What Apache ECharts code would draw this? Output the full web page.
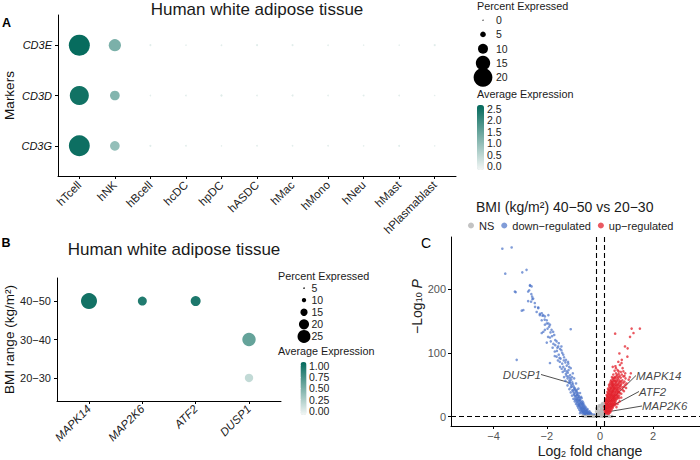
<!DOCTYPE html>
<html><head><meta charset="utf-8">
<script src="https://cdn.jsdelivr.net/npm/echarts@6.0.0/dist/echarts.min.js"></script>
<style>html,body{margin:0;padding:0;background:#fff}#c{width:700px;height:460px}</style>
</head><body><div id="c"></div>
<script>
// ---------- Panel A data ----------
const cellTypesA = ['hTcell','hNK','hBcell','hcDC','hpDC','hASDC','hMac','hMono','hNeu','hMast','hPlasmablast'];
const markersA = ['CD3E','CD3D','CD3G'];
const pctCD3E = [22.5, 12.5, 0.8, 0.4, 0.6, 0.9, 0.8, 0.5, 0.3, 0.3, 0.9];
const pctCD3D = [20.3, 9.6, 0.4, 0.6, 1.2, 0.5, 0.9, 0.5, 0.8, 0.6, 0.3];
const pctCD3G = [22.4, 9.6, 0.9, 0.7, 0.3, 0.6, 0.5, 0.6, 0.4, 0.8, 0.3];
const avgCD3E = [2.62, 1.25, 0.04, 0.02, 0.03, 0.05, 0.04, 0.02, 0.01, 0.02, 0.05];
const avgCD3D = [2.50, 1.15, 0.02, 0.03, 0.08, 0.03, 0.05, 0.02, 0.04, 0.03, 0.01];
const avgCD3G = [2.55, 0.95, 0.04, 0.03, 0.01, 0.03, 0.02, 0.03, 0.02, 0.04, 0.01];
const sizeBreaksA = [0, 5, 10, 15, 20];
const colorBreaksA = [0, 0.5, 1, 1.5, 2, 2.5];

// ---------- Panel B data ----------
const genesB = ['MAPK14','MAP2K6','ATF2','DUSP1'];
const bmiB = ['40\u221250','30\u221240','20\u221230'];
const dotGeneB = ['MAPK14','MAP2K6','ATF2','DUSP1','DUSP1'];
const dotBmiB  = ['40\u221250','40\u221250','40\u221250','30\u221240','20\u221230'];
const dotPctB  = [30.4, 18.0, 19.8, 25.8, 17.0];
const dotAvgB  = [1.00, 0.93, 0.95, 0.60, 0.15];
const sizeBreaksB = [5, 10, 15, 20, 25];
const colorBreaksB = [0, 0.25, 0.5, 0.75, 1];

// ---------- Panel C data (log2FC, -log10 P) ----------
const nsPts = [[-0.14,8],[-0.1,12],[-0.05,15],[0.0,18],[0.05,14],[0.1,10],[0.12,16],[0.08,20],[-0.08,6],[-0.12,3],[0.02,9],[0.06,6],[-0.03,4],[0.1,3],[0.13,6],[-0.06,10],[0.03,12],[-0.1,1.5],[0.0,2],[0.08,1.5],[0.12,12],[0.14,19],[0.11,21],[-0.02,7],[0.04,3],[-0.13,13],[-0.04,17],[0.07,17],[0.13,9],[-0.11,5],[0.01,5.5],[0.09,7.5],[-0.07,2.5],[0.05,10.5],
[-0.5,1.0],[-0.42,0.8],[-0.35,0.9],[-0.3,0.5],[-0.25,1.1],[-0.2,0.6],[-0.15,0.9],[-0.1,0.3],[-0.05,0.8],[0,0.5],[0.05,1.0],[0.1,0.4],[0.15,0.9],[0.2,0.6],[0.25,1.1],[0.3,0.7],[0.35,0.5],[-0.6,0.6],[-0.55,0.3],[0.4,0.3],[-0.45,0.2],[-0.38,0.4],[0.18,0.2],[-0.22,0.2],[0.08,0.7],[-0.28,1.2],[0.22,1.0],[-0.65,0.9],[0.45,0.8]];
const downPts = [[-3.67,263],[-3.32,265],[-3.56,224],[-2.92,226],[-2.76,230],[-3.2,196],[-2.63,205],[-2.66,198],[-2.58,192],[-2.7,181],[-2.54,184],[-2.94,166],[-2.45,178],[-2.32,171],[-2.26,161],[-2.16,158],[-2.08,152],[-2.19,151],[-2.0,146],[-1.91,141],[-2.07,136],[-1.86,132],[-1.8,126],[-1.88,124],[-1.63,118],[-1.75,114],[-2.0,116],[-1.1,137],[-3.13,89],[-1.57,110],[-1.45,104],[-1.7,102],[-1.38,97],[-1.63,94],[-1.28,89],[-1.51,86],[-1.19,83],[-1.38,78],[-1.88,84],[-1.1,76],[-1.25,71],[-1.02,68],[-1.19,63],[-0.97,60],[-1.13,55],[-0.9,52],[-1.06,47],[-0.81,44],[-1.0,39],[-0.75,37],[-0.94,32],[-0.69,29],[-0.88,26],[-0.63,22],[-0.78,18],[-0.56,16],[-0.69,13],[-0.48,10.5],[-0.63,8],[-0.38,6.4],[-0.51,4.3],[-0.31,3.3],[-0.75,5.4],
[-2.63,206],[-2.57,204],[-2.7,196],[-2.55,188],[-2.59,180],[-2.51,185],[-3.17,195],[-2.88,167],
[-2.44,172],[-2.38,164],[-2.32,170],[-2.26,159],[-2.19,162],[-2.13,159],[-2.07,157],[-1.94,159],[-2.0,151],[-1.94,146],[-1.88,144],[-2.07,144],[-1.97,138],[-1.82,136],[-1.76,133],[-2.13,133],[-2.19,131],
[-1.72,128],[-1.95,125],[-1.68,120],[-1.85,118],[-1.55,115],[-1.78,108],[-1.5,106],[-1.62,103],[-1.42,100],[-1.55,97],[-1.7,95],[-1.35,93],[-1.48,91],[-1.58,88],[-1.3,85],[-1.42,83],[-1.25,80],[-1.5,78],[-1.32,75],[-1.18,73],[-1.4,70],[-1.28,67],[-1.12,65],[-1.35,62],[-1.22,60],[-1.08,58],[-1.3,56],[-1.17,53],[-1.02,51],[-1.22,49],[-1.1,46],[-0.96,45],[-1.15,43],[-1.04,41],[-0.9,40],[-1.1,38],[-0.98,36],[-0.86,35],[-1.05,33],[-0.92,30],[-0.82,29],[-1.0,28],[-0.88,27],[-0.78,25],[-0.95,24],[-0.84,23],[-0.73,21],[-0.9,20],[-0.8,19],[-0.7,18],[-0.85,17],[-0.76,16],[-0.66,15],[-0.82,14],[-0.72,13],[-0.62,12],[-0.78,11],[-0.68,10],[-0.58,9.5],[-0.74,9],[-0.64,8],[-0.54,7.5],[-0.7,7],[-0.6,6],[-0.5,6],[-0.66,5],[-0.56,4.5],[-0.46,4],[-0.62,3.5],[-0.52,3],[-0.42,3],[-0.36,2.5],[-0.58,2.2],[-0.48,2],[-0.4,1.8],[-0.3,1.8],[-0.24,1.6],[-0.2,2],[-0.52,1.5],[-0.44,1.4],[-0.34,1.4],[-0.27,2.8],[-0.22,3.2],[-0.33,4.5],[-0.41,5.5],[-0.45,7.2],[-0.51,8.8],[-0.55,11.3],[-0.61,13.6],[-0.64,17.2],[-0.67,19.6],[-0.73,23.4],[-0.77,26.5],[-0.79,31.4],[-0.85,33.7],[-0.87,38.5],[-0.93,41.6],[-0.99,47.5],[-1.04,53.8],[-1.13,60.6],[-1.21,68.8],[-0.71,31],[-0.66,24],[-0.6,19],[-0.53,14],[-0.47,12],[-0.4,8.5],[-0.35,6],
[-0.95,44],[-1.0,42],[-0.87,42],[-0.93,37],[-0.83,37],[-0.97,34],[-0.89,33],[-0.8,33],[-0.86,30],[-0.76,29],[-0.94,27],[-0.83,26],[-0.74,26],[-0.88,23],[-0.79,22],[-0.69,22],[-0.84,20],[-0.75,20],[-0.65,20],[-0.79,17],[-0.7,16],[-0.61,16],[-0.74,14],[-0.65,13],[-0.57,13],[-0.7,11],[-0.6,10.5],[-0.52,10],[-0.66,9],[-0.56,8.5],[-0.48,8],[-0.62,7],[-0.52,6.5],[-0.44,6],[-0.58,5],[-0.48,5],[-0.39,4.5],[-0.54,3.8],[-0.45,3.5],[-0.36,3.2],[-0.29,2.4],[-0.49,2.6],[-0.41,2.2],[-0.32,2.1],[-0.26,2.1],[-0.56,1.7],[-0.47,1.6],[-0.38,1.5],[-0.21,1.5],[-1.08,50],[-1.15,57],[-1.05,62],[-1.26,64],[-1.33,72],[-1.16,78],[-1.44,75],[-1.2,86],[-1.36,88],[-1.52,92],[-1.45,110],[-1.6,108],[-1.68,112]];
const upPts = [[0.57,130],[1.19,138],[1.26,131],[1.5,138],[1.13,125],[0.94,110],[1.04,107],[0.73,99],[1.03,94],[0.82,89],[0.69,86],[0.81,84],[0.75,81],[0.58,79],[0.48,78],[0.85,76],[0.6,76],[0.7,71],[1.16,68],[0.92,64],
[0.55,72],[0.66,73],[0.78,70],[0.88,71],
[0.5,66],[0.6,68],[0.7,67],[0.82,66],[0.95,68],[0.64,65],
[0.45,62],[0.53,61],[0.62,63],[0.7,62],[0.78,61],[0.88,63],[0.58,60],[0.96,60],
[0.42,57],[0.5,58],[0.56,56],[0.63,57],[0.7,58],[0.76,56],[0.84,57],[0.92,55],[0.46,55],[0.66,55],
[0.38,52],[0.44,53],[0.5,51],[0.55,52],[0.6,53],[0.66,51],[0.72,52],[0.8,51],[0.88,53],[0.95,50],[0.58,50],[0.48,49],
[0.35,47],[0.4,46],[0.45,48],[0.5,47],[0.55,46],[0.6,48],[0.65,46],[0.7,47],[0.76,48],[0.84,46],[0.9,47],[0.53,44],[0.62,44],
[0.32,42],[0.37,41],[0.42,43],[0.46,41],[0.5,42],[0.55,43],[0.6,41],[0.65,42],[0.7,41],[0.77,43],[0.85,42],[0.45,39],[0.58,39],[0.68,39],
[0.3,37],[0.34,36],[0.38,38],[0.42,36],[0.46,37],[0.5,38],[0.54,36],[0.58,37],[0.63,36],[0.68,38],[0.74,37],[0.8,36],[0.4,34],[0.52,34],[0.6,34],
[0.27,32],[0.3,31],[0.34,33],[0.38,31],[0.42,32],[0.46,33],[0.5,31],[0.54,32],[0.58,30],[0.63,32],[0.68,31],[0.36,29],[0.44,29],[0.52,29],[0.72,29],
[0.24,27],[0.28,26],[0.32,28],[0.36,26],[0.4,27],[0.44,26],[0.48,28],[0.52,26],[0.56,27],[0.6,26],[0.64,28],[0.3,24],[0.38,24],[0.46,24],[0.54,24],
[0.21,22],[0.24,21],[0.28,23],[0.32,21],[0.36,22],[0.4,21],[0.44,23],[0.48,21],[0.52,22],[0.56,21],[0.27,19],[0.34,19],[0.42,19],[0.5,19],[0.58,19],
[0.18,17],[0.22,16],[0.26,18],[0.3,16],[0.34,17],[0.38,16],[0.42,18],[0.46,16],[0.5,17],[0.24,14],[0.32,14],[0.4,14],[0.48,14],
[0.16,12],[0.2,11],[0.24,13],[0.28,11],[0.32,12],[0.36,11],[0.4,12],[0.44,11],[0.22,9],[0.3,9],[0.38,9],
[0.16,7],[0.19,6],[0.23,8],[0.27,6],[0.31,7],[0.35,6],[0.39,7],[0.2,4.5],[0.26,4],[0.33,4.5],
[0.16,3],[0.2,2.5],[0.24,3],[0.28,2],[0.18,1.8],[0.22,1.6],[0.3,1.5],
[1.0,52],[1.08,58],[0.98,45],[1.12,62],[0.9,40],[0.8,30],[0.74,24],[0.66,20],[0.62,15],
[0.2,8],[0.25,10],[0.29,8.5],[0.34,9.5],[0.18,14],[0.21,13.5],[0.27,15],[0.35,14.5],[0.44,14.5],[0.17,19],[0.2,20],[0.25,19.5],[0.31,18.5],[0.38,19.5],[0.46,19.5],[0.54,18],[0.19,24],[0.23,25],[0.27,24.5],[0.34,25],[0.42,24.5],[0.5,25.5],[0.58,23],[0.22,28],[0.26,30],[0.32,29.5],[0.4,30],[0.48,29.5],[0.56,29],[0.64,30],[0.25,34],[0.29,35],[0.36,34.5],[0.44,35],[0.48,33],[0.56,33.5],[0.66,34],[0.72,33],[0.28,39],[0.34,40],[0.4,39.5],[0.48,40],[0.52,40],[0.62,39.5],[0.72,38.5],[0.3,44],[0.38,44],[0.43,45],[0.48,45],[0.57,45],[0.67,44],[0.74,45],[0.34,50],[0.41,50],[0.46,51],[0.53,49],[0.63,49.5],[0.69,50],[0.77,49],[0.4,55],[0.48,54],[0.53,56.5],[0.6,55],[0.73,54],[0.8,54.5],[0.48,60],[0.56,62],[0.66,60],[0.74,64]];
const labelGenes = ['MAPK14','ATF2','MAP2K6','DUSP1'];
const labelFC = [0.16, 0.17, 0.19, -1.13];
const labelP  = [15.7, 10.5, 6.9, 53];
const labelGroup = ['up','up','up','down'];
const xTicksC = [-4, -2, 0, 2];
const yTicksC = [0, 100, 200];
const fcCut = 0.15, pCut = 1.3;

// ---------- styling / layout ----------
const FF = "'Liberation Sans', Arial, Helvetica, sans-serif";
const LOW = '#f3f7f6', HIGH = '#03695b';
const groupColor = {up:'#e3222c', down:'#4a72c8', ns:'#b8b8b8'};
function radA(p){ return 0.44*p + 0.6; }
function radB(p){ return Math.max(0.5, 0.285*(p-2.3)); }
const minus = v => String(v).replace('-', '\u2212');

const pctA = [pctCD3E, pctCD3D, pctCD3G];
const avgA = [avgCD3E, avgCD3D, avgCD3G];
const dataA = [];
markersA.forEach((m,i)=>cellTypesA.forEach((c,j)=>dataA.push([j+1, i+1, pctA[i][j], avgA[i][j]])));
const dataB = dotGeneB.map((g,k)=>[genesB.indexOf(g)+1, bmiB.indexOf(dotBmiB[k])+1, dotPctB[k], dotAvgB[k]]);
const idxA = cellTypesA.map((_,i)=>i+1);
const idxM = markersA.map((_,i)=>i+1);
const idxG = genesB.map((_,i)=>i+1);
const idxB = bmiB.map((_,i)=>i+1);

const geneLabelPos = [
  {x:636, y:375.5, align:'left', verticalAlign:'middle'},
  {x:639, y:391.5, align:'left', verticalAlign:'middle'},
  {x:642, y:406, align:'left', verticalAlign:'middle'},
  {x:541, y:374.5, align:'right', verticalAlign:'middle'}
];

const axBase = {
  axisLine:{onZero:false, lineStyle:{color:'#000', width:1}},
  axisTick:{length:3, lineStyle:{color:'#000', width:1}},
  splitLine:{show:false}
};
function valAxis(extra){ return Object.assign({type:'value'}, JSON.parse(JSON.stringify(axBase)), extra); }
function g(l,t,w,h){ return {left:l, top:t, width:w, height:h, containLabel:false, outerBoundsMode:'none'}; }

const chart = echarts.init(document.getElementById('c'), null, {renderer:'svg', width:700, height:460});
const option = {
  animation:false,
  textStyle:{fontFamily:FF},
  grid:[
    g(58, 15, 398, 161),
    g(57, 278, 224, 123),
    g(451, 237, 278, 189),
    g(476, 13, 14, 71.5),
    g(298, 282, 12, 60.5),
    g(477, 105, 7, 65),
    g(300.5, 362, 6, 53)
  ],
  xAxis:[
    valAxis({gridIndex:0, min:0.4, max:11.6,
      axisTick:{length:3, lineStyle:{color:'#000'}, customValues:idxA},
      axisLabel:{customValues:idxA, formatter:v=>cellTypesA[v-1], rotate:45, fontSize:11.5, color:'#222', margin:7}}),
    valAxis({gridIndex:1, min:0.4, max:4.6,
      axisTick:{length:3, lineStyle:{color:'#000'}, customValues:idxG},
      axisLabel:{customValues:idxG, formatter:v=>genesB[v-1], rotate:45, fontSize:11.5, fontStyle:'italic', color:'#222', margin:6}}),
    valAxis({gridIndex:2, min:-5.6, max:4.85,
      axisTick:{length:3, lineStyle:{color:'#000'}, customValues:xTicksC},
      axisLabel:{customValues:xTicksC, formatter:minus, fontSize:11, color:'#555', margin:4},
      name:'Log{sub|2} fold change', nameLocation:'middle', nameGap:18, nameMoveOverlap:false,
      nameTextStyle:{fontSize:14, color:'#222', rich:{sub:{fontSize:9, lineHeight:11, verticalAlign:'bottom'}}}}),
    {gridIndex:3, type:'value', min:-1, max:1, show:false},
    {gridIndex:4, type:'value', min:-1, max:1, show:false},
    {gridIndex:5, type:'value', min:0, max:1, show:false},
    {gridIndex:6, type:'value', min:0, max:1, show:false}
  ],
  yAxis:[
    valAxis({gridIndex:0, min:0.4, max:3.6, inverse:true,
      axisTick:{length:3, lineStyle:{color:'#000'}, customValues:idxM},
      axisLabel:{customValues:idxM, formatter:v=>markersA[v-1], fontSize:11, fontStyle:'italic', color:'#111', margin:6},
      name:'Markers', nameLocation:'middle', nameGap:42, nameMoveOverlap:false, nameTextStyle:{fontSize:13.5, color:'#111'}}),
    valAxis({gridIndex:1, min:0.4, max:3.6, inverse:true,
      axisTick:{length:3, lineStyle:{color:'#000'}, customValues:idxB},
      axisLabel:{customValues:idxB, formatter:v=>bmiB[v-1], fontSize:11, color:'#222', margin:6},
      name:'BMI range (kg/m\u00b2)', nameLocation:'middle', nameGap:41, nameMoveOverlap:false, nameTextStyle:{fontSize:13.5, color:'#111'}}),
    valAxis({gridIndex:2, min:-14.6, max:281.4,
      axisTick:{length:3, lineStyle:{color:'#000'}, customValues:yTicksC},
      axisLabel:{customValues:yTicksC, fontSize:11, color:'#555', margin:5},
      name:'\u2212Log{sub|10} {it|P}', nameLocation:'middle', nameGap:24,
      nameTextStyle:{fontSize:14, color:'#222', padding:[0,0,0,50],
        rich:{sub:{fontSize:9, lineHeight:11, verticalAlign:'bottom'}, it:{fontSize:14, fontStyle:'italic'}}}}),
    {gridIndex:3, type:'category', data:sizeBreaksA.map(String), inverse:true, position:'right',
      axisLine:{show:false}, axisTick:{show:false}, axisLabel:{interval:0, margin:6, fontSize:10.5, color:'#222'}},
    {gridIndex:4, type:'category', data:sizeBreaksB.map(String), inverse:true, position:'right',
      axisLine:{show:false}, axisTick:{show:false}, axisLabel:{interval:0, margin:1.5, fontSize:10.5, color:'#222'}},
    {gridIndex:5, type:'value', min:-0.17, max:2.67, position:'right', z:10,
      axisLine:{show:false}, splitLine:{show:false},
      axisTick:{show:true, inside:true, length:2, lineStyle:{color:'#fff'}, customValues:colorBreaksA},
      axisLabel:{customValues:colorBreaksA, formatter:v=>v.toFixed(1), margin:3, fontSize:10.5, color:'#222'}},
    {gridIndex:6, type:'value', min:-0.088, max:1.077, position:'right', z:10,
      axisLine:{show:false}, splitLine:{show:false},
      axisTick:{show:true, inside:true, length:2, lineStyle:{color:'#fff'}, customValues:colorBreaksB},
      axisLabel:{customValues:colorBreaksB, formatter:v=>v.toFixed(2), margin:2.5, fontSize:10.5, color:'#222'}}
  ],
  visualMap:[
    {type:'continuous', seriesIndex:0, dimension:3, min:-0.17, max:2.67, inRange:{color:[LOW, HIGH]},
      orient:'vertical', left:477, top:105, itemWidth:7, itemHeight:65, padding:0, calculable:false, hoverLink:false},
    {type:'continuous', seriesIndex:1, dimension:3, min:-0.088, max:1.077, inRange:{color:[LOW, HIGH]},
      orient:'vertical', left:300.5, top:362, itemWidth:6, itemHeight:53, padding:0, calculable:false, hoverLink:false}
  ],
  legend:{data:['NS','down\u2212regulated','up\u2212regulated'], left:468, top:220, itemWidth:6, itemHeight:6,
    itemGap:7, icon:'circle', padding:0, textStyle:{fontSize:11, color:'#222'}, selectedMode:false},
  series:[
    {type:'scatter', xAxisIndex:0, yAxisIndex:0, data:dataA, symbolSize:v=>2*radA(v[2]), itemStyle:{opacity:1}, silent:true},
    {type:'scatter', xAxisIndex:1, yAxisIndex:1, data:dataB, symbolSize:v=>2*radB(v[2]), itemStyle:{opacity:1}, silent:true},
    {type:'scatter', xAxisIndex:3, yAxisIndex:3, data:sizeBreaksA.map(s=>[0,String(s)]), symbolSize:v=>2*radA(Number(v[1])), itemStyle:{color:'#000', opacity:1}, silent:true},
    {type:'scatter', xAxisIndex:4, yAxisIndex:4, data:sizeBreaksB.map(s=>[0,String(s)]), symbolSize:v=>2*radB(Number(v[1])), itemStyle:{color:'#000', opacity:1}, silent:true},
    {type:'scatter', name:'down\u2212regulated', xAxisIndex:2, yAxisIndex:2, data:downPts, symbolSize:2.6, itemStyle:{color:groupColor.down, opacity:0.7}, silent:true},
    {type:'scatter', name:'up\u2212regulated', xAxisIndex:2, yAxisIndex:2, data:upPts, symbolSize:2.6, itemStyle:{color:groupColor.up, opacity:0.75}, silent:true},
    {type:'scatter', name:'NS', xAxisIndex:2, yAxisIndex:2, data:nsPts, symbolSize:3, itemStyle:{color:groupColor.ns, opacity:0.85}, silent:true,
      markLine:{silent:true, symbol:['none','none'], label:{show:false},
        lineStyle:{color:'#000', type:[5,3], width:1.1},
        data:[{xAxis:-fcCut},{xAxis:fcCut},{yAxis:pCut}]}},
    {type:'scatter', xAxisIndex:2, yAxisIndex:2, silent:true, symbolSize:2.6,
      data:labelGenes.map((g,i)=>({name:g, value:[labelFC[i], labelP[i]], itemStyle:{color:groupColor[labelGroup[i]]}})),
      label:{show:true, formatter:'{b}', fontStyle:'italic', fontSize:11.5, color:'#111'},
      labelLine:{show:true, lineStyle:{color:'#222', width:0.8}},
      labelLayout:p=>geneLabelPos[p.dataIndex]}
  ],
  graphic:{elements:[
    {type:'text', x:257, y:9, style:{text:'Human white adipose tissue', fontSize:17, fontFamily:FF, fill:'#1a1a1a', align:'center', verticalAlign:'middle', textAlign:'center', textVerticalAlign:'middle'}},
    {type:'text', x:174, y:249, style:{text:'Human white adipose tissue', fontSize:17, fontFamily:FF, fill:'#1a1a1a', align:'center', verticalAlign:'middle', textAlign:'center', textVerticalAlign:'middle'}},
    {type:'text', x:476, y:207, style:{text:'BMI (kg/m\u00b2) 40\u221250 vs 20\u221230', fontSize:14, fontFamily:FF, fill:'#1a1a1a', align:'left', verticalAlign:'middle', textAlign:'left', textVerticalAlign:'middle'}},
    {type:'text', x:6.5, y:22.5, style:{text:'A', fontSize:12.5, fontWeight:'bold', fontFamily:FF, fill:'#000', align:'center', verticalAlign:'middle', textAlign:'center', textVerticalAlign:'middle'}},
    {type:'text', x:6, y:242.5, style:{text:'B', fontSize:12.5, fontWeight:'bold', fontFamily:FF, fill:'#000', align:'center', verticalAlign:'middle', textAlign:'center', textVerticalAlign:'middle'}},
    {type:'text', x:426, y:243, style:{text:'C', fontSize:14, fontFamily:FF, fill:'#000', align:'center', verticalAlign:'middle', textAlign:'center', textVerticalAlign:'middle'}},
    {type:'text', x:477, y:6, style:{text:'Percent Expressed', fontSize:10.8, fontFamily:FF, fill:'#1a1a1a', align:'left', verticalAlign:'middle', textAlign:'left', textVerticalAlign:'middle'}},
    {type:'text', x:477, y:94, style:{text:'Average Expression', fontSize:10.8, fontFamily:FF, fill:'#1a1a1a', align:'left', verticalAlign:'middle', textAlign:'left', textVerticalAlign:'middle'}},
    {type:'text', x:278, y:275.5, style:{text:'Percent Expressed', fontSize:10.8, fontFamily:FF, fill:'#1a1a1a', align:'left', verticalAlign:'middle', textAlign:'left', textVerticalAlign:'middle'}},
    {type:'text', x:278, y:351.3, style:{text:'Average Expression', fontSize:10.8, fontFamily:FF, fill:'#1a1a1a', align:'left', verticalAlign:'middle', textAlign:'left', textVerticalAlign:'middle'}}
  ]}
};
chart.setOption(option);
</script></body></html>
